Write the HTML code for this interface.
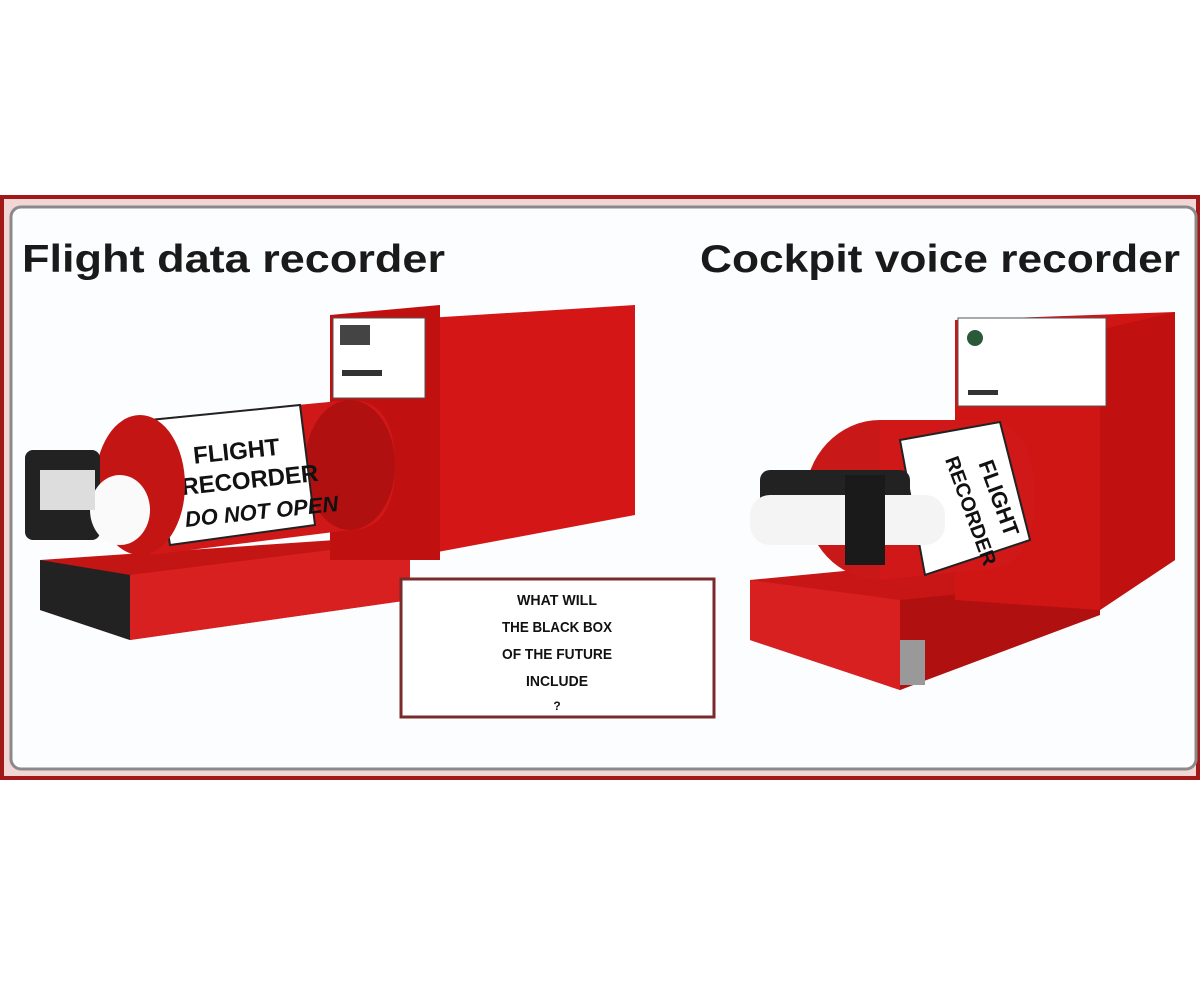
<!DOCTYPE html>
<html><head><style>
body{margin:0;background:#fff;width:1200px;height:981px;overflow:hidden;font-family:"Liberation Sans",sans-serif}
</style></head><body>
<svg width="1200" height="981" viewBox="0 0 1200 981" xmlns="http://www.w3.org/2000/svg">
<rect x="0" y="0" width="1200" height="981" fill="#fff"/>
<rect x="0" y="195" width="1200" height="585" fill="#a01818"/>
<rect x="4" y="199" width="1192" height="577" fill="#f2d6d6"/>
<rect x="11" y="207" width="1185" height="562" rx="10" fill="#fcfdfe" stroke="#8a8a8a" stroke-width="3"/>
<text x="22" y="272" font-size="39" font-weight="bold" fill="#1a1a1a" textLength="423" lengthAdjust="spacingAndGlyphs">Flight data recorder</text>
<text x="700" y="272" font-size="39" font-weight="bold" fill="#1a1a1a" textLength="480" lengthAdjust="spacingAndGlyphs">Cockpit voice recorder</text>

<polygon points="40,560 410,535 410,600 130,640 40,610" fill="#c41515"/>
<polygon points="40,560 130,575 130,640 40,610" fill="#222"/>
<polygon points="130,575 410,540 410,600 130,640" fill="#d82020"/>
<polygon points="395,320 635,305 635,515 395,560" fill="#d41616"/>
<polygon points="330,315 440,305 440,560 330,560" fill="#c01010"/>
<rect x="333" y="318" width="92" height="80" fill="#fff" stroke="#555"/>
<rect x="340" y="325" width="30" height="20" fill="#444"/>
<rect x="342" y="370" width="40" height="6" fill="#333"/>
<path d="M140,420 L350,400 Q395,400 395,465 Q395,530 350,530 L150,555 Z" fill="#d01818"/>
<ellipse cx="350" cy="465" rx="45" ry="65" fill="#b01010"/>
<polygon points="150,420 300,405 315,525 170,545" fill="#fff" stroke="#222" stroke-width="2"/>
<text x="195" y="460" font-size="24" font-weight="bold" fill="#111" transform="rotate(-6 230 470)">FLIGHT</text>
<text x="180" y="490" font-size="24" font-weight="bold" fill="#111" transform="rotate(-6 230 470)">RECORDER</text>
<text x="180" y="522" font-size="22" font-weight="bold" font-style="italic" fill="#111" transform="rotate(-6 230 470)">DO NOT OPEN</text>
<ellipse cx="140" cy="485" rx="45" ry="70" fill="#c41515"/>
<rect x="25" y="450" width="75" height="90" rx="8" fill="#222"/>
<ellipse cx="120" cy="510" rx="30" ry="35" fill="#fafafa"/>
<rect x="40" y="470" width="55" height="40" fill="#ddd"/>

<rect x="401" y="579" width="313" height="138" fill="#fff" stroke="#7a2a2a" stroke-width="3"/>
<g font-size="15" font-weight="bold" fill="#111" text-anchor="middle">
<text x="557" y="605" textLength="80" lengthAdjust="spacingAndGlyphs">WHAT WILL</text>
<text x="557" y="632" textLength="110" lengthAdjust="spacingAndGlyphs">THE BLACK BOX</text>
<text x="557" y="659" textLength="110" lengthAdjust="spacingAndGlyphs">OF THE FUTURE</text>
<text x="557" y="686" textLength="62" lengthAdjust="spacingAndGlyphs">INCLUDE</text>
<text x="557" y="710" font-size="12">?</text>
</g>

<polygon points="750,580 960,560 1100,570 1100,610 900,690 750,640" fill="#c81515"/>
<polygon points="750,580 900,600 900,690 750,640" fill="#d82020"/>
<polygon points="900,600 1100,580 1100,615 900,690" fill="#b01010"/>
<polygon points="955,320 1175,312 1175,560 1100,610 955,600" fill="#d01515"/>
<polygon points="1100,330 1175,312 1175,560 1100,610" fill="#c01010"/>
<rect x="958" y="318" width="148" height="88" fill="#fff" stroke="#555"/>
<circle cx="975" cy="338" r="8" fill="#2a5a3a"/>
<rect x="968" y="390" width="30" height="5" fill="#333"/>
<ellipse cx="880" cy="500" rx="75" ry="80" fill="#c81818"/>
<path d="M880,420 L980,420 Q1035,420 1035,495 Q1035,570 980,570 L880,580 Z" fill="#d01818"/>
<polygon points="900,440 1000,422 1030,540 925,575" fill="#fff" stroke="#222" stroke-width="2"/>
<text x="935" y="475" font-size="22" font-weight="bold" fill="#111" transform="rotate(70 965 500)">FLIGHT</text>
<text x="920" y="505" font-size="20" font-weight="bold" fill="#111" transform="rotate(70 965 500)">RECORDER</text>
<rect x="760" y="470" width="150" height="70" rx="10" fill="#222"/>
<rect x="750" y="495" width="195" height="50" rx="20" fill="#f4f4f4"/>
<rect x="845" y="475" width="40" height="90" fill="#1a1a1a"/>
<rect x="900" y="640" width="25" height="45" fill="#999"/>
</svg>
</body></html>
